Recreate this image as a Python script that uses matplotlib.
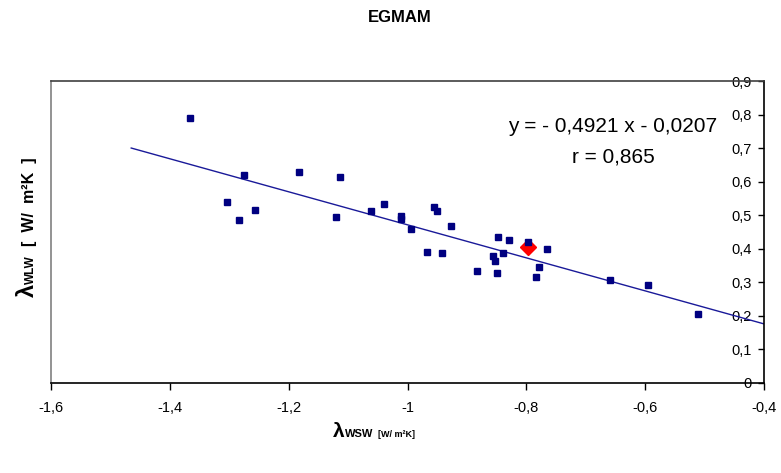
import matplotlib
matplotlib.use("Agg")
import matplotlib.pyplot as plt
from matplotlib.ticker import FuncFormatter, MultipleLocator

plt.rcParams["font.family"] = ["Liberation Sans", "DejaVu Sans"]

# data
x_pts = [-1.366, -1.275, -1.182, -1.114, -1.304, -1.284, -1.257, -1.121,
         -1.062, -1.040, -1.011, -1.011, -0.994, -0.955, -0.951, -0.926,
         -0.967, -0.942, -0.847, -0.829, -0.797, -0.765, -0.839, -0.856,
         -0.853, -0.883, -0.849, -0.778, -0.783, -0.659, -0.595, -0.511]
y_pts = [0.789, 0.619, 0.628, 0.614, 0.538, 0.485, 0.515, 0.494,
         0.512, 0.533, 0.499, 0.488, 0.458, 0.525, 0.512, 0.467,
         0.390, 0.386, 0.435, 0.426, 0.421, 0.399, 0.386, 0.378,
         0.364, 0.333, 0.328, 0.346, 0.315, 0.306, 0.292, 0.207]
x_hi = [-0.798]          # highlighted (red diamond)
y_hi = [0.405]
slope, intercept = -0.4921, -0.0207
r_val = 0.865
fit_x = [-1.465, -0.4]
fit_y = [slope * v + intercept for v in fit_x]

W, H = 781, 473
fig = plt.figure(figsize=(W / 100, H / 100), dpi=100)
fig.patch.set_facecolor("white")
ax = fig.add_axes([51 / W, 1 - 383 / H, (764 - 51) / W, (383 - 81) / H])

ax.plot(fit_x, fit_y, color="#1a1a99", lw=1.0, zorder=2)
ax.plot(x_hi, y_hi, ls="none", marker="D", ms=8, color="#ff0000",
        mec="#ff0000", zorder=3)
ax.plot(x_pts, y_pts, ls="none", marker="s", ms=4.7, color="#000080",
        mec="#000080", zorder=4)

ax.set_xlim(-1.6, -0.4)
ax.set_ylim(0, 0.9)
ax.xaxis.set_major_locator(MultipleLocator(0.2))
ax.yaxis.set_major_locator(MultipleLocator(0.1))


def comma(v, pos):
    s = ("%.1f" % v).rstrip("0").rstrip(".")
    if s in ("-0", ""):
        s = "0"
    return s.replace(".", ",")


ax.xaxis.set_major_formatter(FuncFormatter(comma))
ax.yaxis.set_major_formatter(FuncFormatter(comma))

ax.yaxis.set_ticks_position("right")
ax.tick_params(axis="y", direction="in", length=4, width=1, pad=-9,
               labelsize=10.5, colors="black")
for lbl in ax.get_yticklabels():
    lbl.set_horizontalalignment("right")
ax.tick_params(axis="x", direction="out", length=5, width=1, pad=8,
               labelsize=10.5, colors="black")

ax.spines["left"].set_color("#808080")
ax.spines["top"].set_color("#404040")
ax.spines["bottom"].set_color("black")
ax.spines["right"].set_color("black")
for s in ax.spines.values():
    s.set_linewidth(1.2)

# regression text
ax.annotate("y = - 0,4921 x - 0,0207", xy=(508, H - 132), xycoords="figure pixels",
            fontsize=15, ha="left", va="baseline")
ax.annotate("r = %s" % str(r_val).replace(".", ","), xy=(572, H - 162),
            xycoords="figure pixels", fontsize=15, ha="left", va="baseline")

fig.text(400 / W, 1 - 17 / H, "EGMAM", ha="center", va="center",
         fontsize=12, fontweight="bold")


def chain(parts, x0, y0, rotation):
    prev = None
    for text, size in parts:
        if prev is None:
            xy, xyc = (x0, y0), "figure pixels"
        elif rotation == 0:
            xy, xyc = (1.0, y0), (prev, "figure pixels")
        else:
            xy, xyc = (x0, 1.0), ("figure pixels", prev)
        prev = ax.annotate(text, xy=xy, xycoords=xyc, fontsize=size,
                           fontweight="bold", rotation=rotation,
                           rotation_mode="anchor", ha="left", va="baseline",
                           annotation_clip=False)


chain([("λ", 15), ("WSW", 8), ("  [W/ m²K]", 6.5)], 333, H - 437, 0)
chain([("λ", 17), ("WLW", 8.5), ("  [  W/  m²K  ]", 11.5)], 34, H - 297, 90)

fig.savefig("out.png", dpi=100)
